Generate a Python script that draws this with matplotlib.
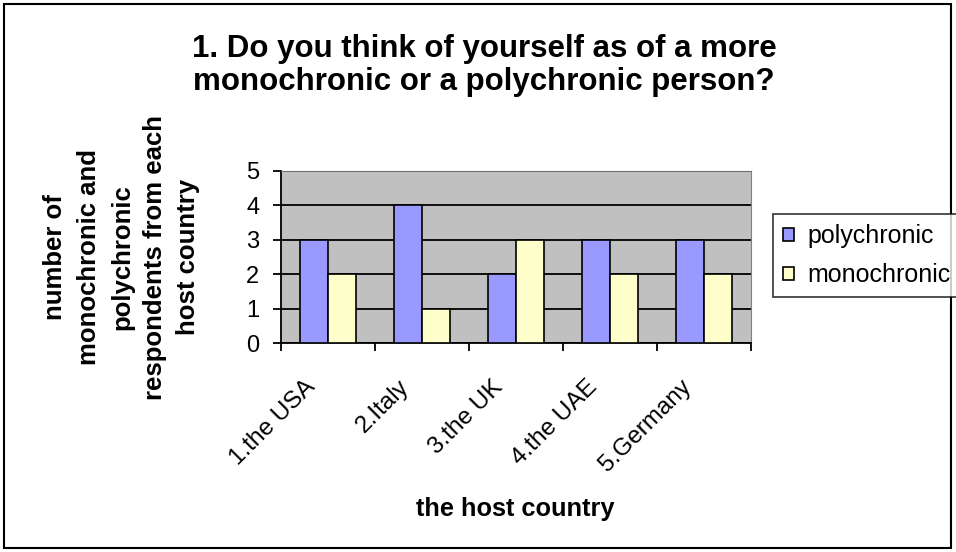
import matplotlib
matplotlib.use("Agg")
import matplotlib.pyplot as plt
import matplotlib.transforms as mtransforms
import numpy as np
from matplotlib.patches import Rectangle

plt.rcParams['font.family'] = ['Liberation Sans', 'DejaVu Sans']

# dane
kraje = ["1.the USA", "2.Italy", "3.the UK", "4.the UAE", "5.Germany"]
polychronic = [3, 4, 2, 3, 3]
monochronic = [2, 1, 3, 2, 2]
seria_nazwy = ["polychronic", "monochronic"]
kolory = ["#9999FF", "#FFFFCC"]

tytul = ["1. Do you think of yourself as of a more", "monochronic or a polychronic person?"]
opis_y = ["number of", "monochronic and", "polychronic", "respondents from each", "host country"]
opis_x = "the host country"

W, H = 956, 552
fig = plt.figure(figsize=(W / 100, H / 100), dpi=100)
fig.patch.set_facecolor("white")

def px(x, y):
    """zamiana pikseli (od lewego gornego rogu) na wspolrzedne rysunku"""
    return x / W, 1 - y / H

# obszar wykresu (w pikselach jak w oryginale)
ax = fig.add_axes([281 / W, 1 - 343 / H, 470 / W, 172 / H])
ax.set_facecolor("#C0C0C0")

x = np.arange(len(kraje))
szer = 0.295
ax.bar(x - szer / 2, polychronic, szer, color=kolory[0], edgecolor="black", linewidth=1.2,
       label=seria_nazwy[0], zorder=3)
ax.bar(x + szer / 2, monochronic, szer, color=kolory[1], edgecolor="black", linewidth=1.2,
       label=seria_nazwy[1], zorder=3)

ax.set_xlim(-0.5, len(kraje) - 0.5)
ax.set_ylim(0, 5)
ax.set_yticks(range(0, 6))
ax.yaxis.grid(True, color="black", linewidth=1.3, zorder=1)
ax.set_axisbelow(True)

# kreski na granicach kategorii, podpisy rysowane osobno (obrocone o 45 stopni)
ax.set_xticks(x)
ax.set_xticklabels([])
ax.tick_params(axis="x", which="major", length=0)
ax.set_xticks(np.arange(-0.5, len(kraje)), minor=True)
ax.tick_params(axis="x", which="minor", length=6, width=1.3, direction="out")
ax.tick_params(axis="y", length=6, width=1.3, direction="out", labelsize=17, pad=9.5)

przes = mtransforms.ScaledTranslation(-24 / 100, -33 / 100, fig.dpi_scale_trans)
tr = mtransforms.blended_transform_factory(ax.transData, ax.transAxes) + przes
for i, k in enumerate(kraje):
    ax.text(i, 0, k, transform=tr, rotation=45, rotation_mode="anchor",
            ha="right", va="top", fontsize=17.5)

for s in ["left", "bottom"]:
    ax.spines[s].set_color("black")
    ax.spines[s].set_linewidth(1.3)
ax.spines["top"].set_color("#707070")
ax.spines["right"].set_color("#808080")

# tytul - dwie linie
for linia, yb in zip(tytul, [57, 90]):
    fig.text(*px(484, yb), linia, ha="center", va="baseline", fontsize=22.5, fontweight="bold")

# opis osi Y - kazda linia osobno, obrocona
for linia, xb in zip(opis_y, [62, 95.5, 129, 162, 195]):
    fig.text(*px(xb, 257), linia, ha="center", va="baseline", rotation=90,
             rotation_mode="anchor", fontsize=18.5, fontweight="bold")

fig.text(*px(515, 516), opis_x, ha="center", va="baseline", fontsize=18.3, fontweight="bold")

# legenda
leg = fig.legend(loc="upper left", bbox_to_anchor=px(773, 214), fontsize=18,
                 frameon=True, fancybox=False, edgecolor="black", borderaxespad=0,
                 handlelength=0.42, handleheight=0.42, handletextpad=0.55, borderpad=0.4,
                 labelspacing=0.6)
leg.get_frame().set_linewidth(1.2)

# ramka wokol calego rysunku
fig.patches.append(Rectangle((4 / W, 4 / H), 947 / W, 544 / H, transform=fig.transFigure,
                             fill=False, edgecolor="black", linewidth=1.5))

fig.savefig("out.png", dpi=100)
